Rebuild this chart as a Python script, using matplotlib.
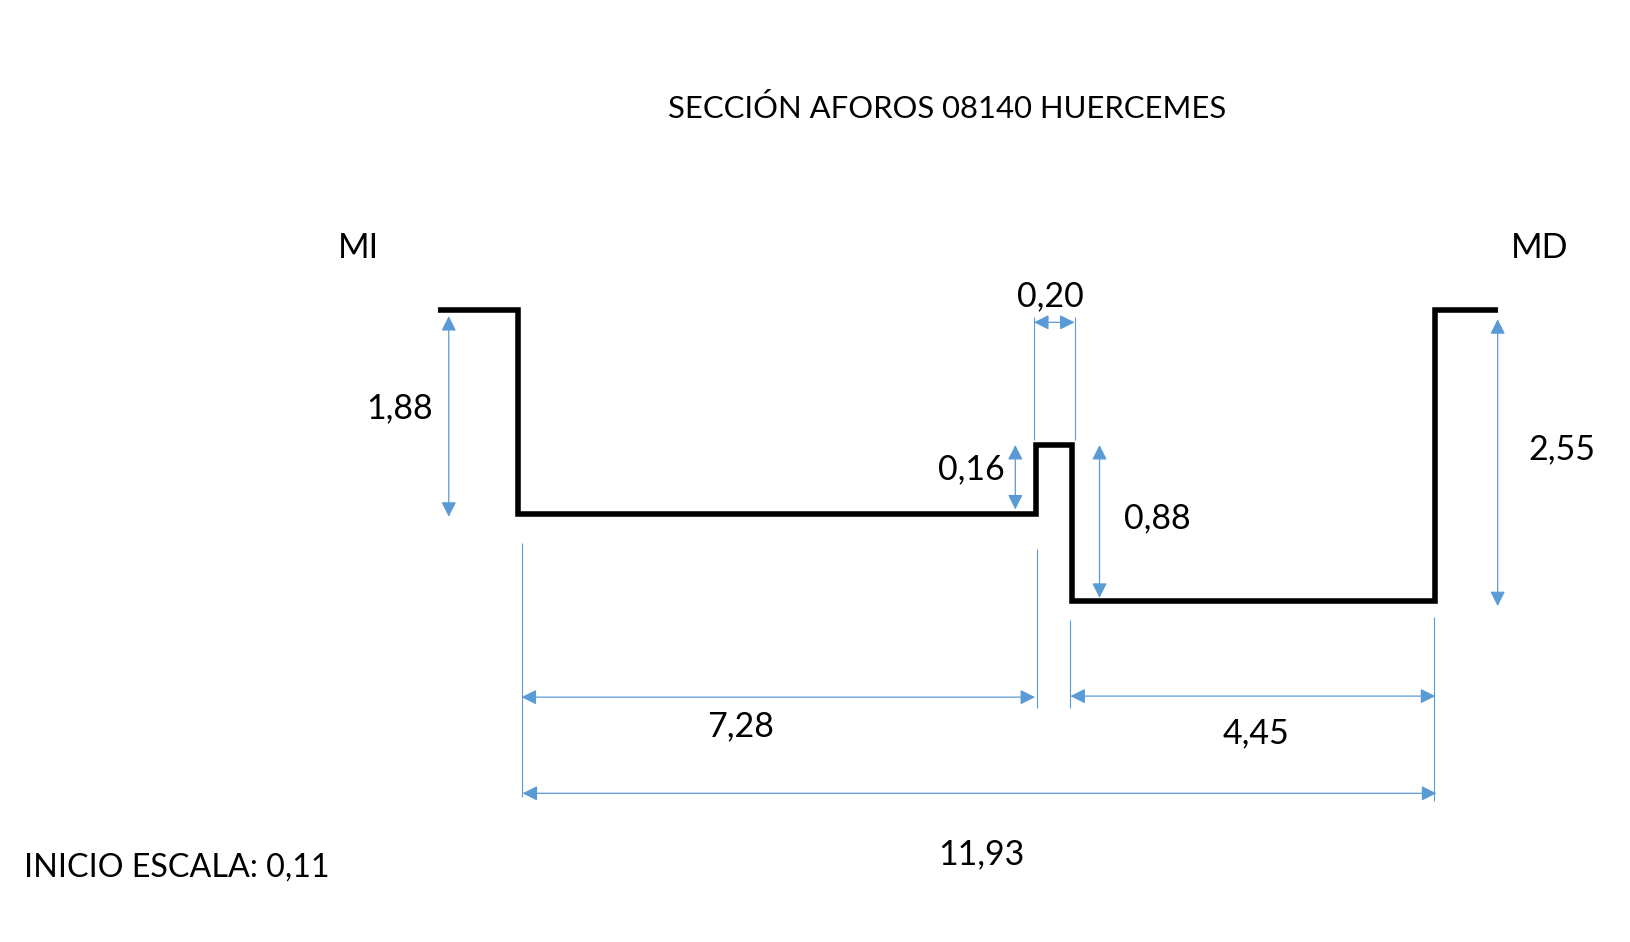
import matplotlib
matplotlib.use('Agg')
import matplotlib.pyplot as plt

# section profile
SECTION_X = [422, 499, 499, 997, 997, 1032, 1032, 1381, 1381, 1441]
SECTION_Y = [298, 298, 494, 494, 428, 428, 578, 578, 298, 298]

# dimension arrows (x0, y0, x1, y1)
ARROWS = [(432, 304, 432, 497), (977, 428, 977, 490), (1058, 428, 1058, 575),
          (1441, 307, 1441, 583), (995, 310, 1034, 310), (502, 670.5, 996, 670.5),
          (1030, 669.5, 1381, 669.5), (503, 763, 1382, 763)]

# extension lines (x, y0, y1)
EXT_LINES = [(502, 522, 767), (998, 528, 681), (1030, 596, 681), (1380, 593, 770),
             (995, 305, 423), (1034, 305, 423)]

LABELS = ['MI', 'MD', '0,20', '1,88', '0,16', '0,88', '2,55', '7,28', '4,45', '11,93']
LABEL_X = [345, 1481, 1011, 385, 935, 1114, 1503, 713, 1209, 944]
LABEL_Y = [239, 239, 284.5, 392.5, 451.5, 498.5, 432.5, 698.5, 705.5, 821.5]

TITLE = 'SECCIÓN AFOROS 08140 HUERCEMES'
NOTE = 'INICIO ESCALA: 0,11'
BLUE = '#5B9BD5'

plt.rcParams['font.family'] = ['Lato', 'DejaVu Sans']

fig = plt.figure(figsize=(16.3, 9.42), dpi=100)
ax = fig.add_axes([0, 0, 1, 1])
ax.set_xlim(0.3, 1568.3)
ax.set_ylim(906, 0)
ax.axis('off')

for x, y0, y1 in EXT_LINES:
    ax.plot([x, x], [y0, y1], color=BLUE, lw=0.8, solid_capstyle='butt')

for x0, y0, x1, y1 in ARROWS:
    ax.annotate('', xy=(x1, y1), xytext=(x0, y0),
                arrowprops=dict(arrowstyle='<|-|>,head_length=0.6,head_width=0.3',
                                mutation_scale=15, color=BLUE, lw=0.9,
                                shrinkA=0, shrinkB=0))

ax.plot(SECTION_X, SECTION_Y, color='black', lw=4.0, solid_joinstyle='miter',
        solid_capstyle='butt')

ax.text(911, 104.5, TITLE, fontsize=22.3, ha='center', va='center')
ax.text(23, 834, NOTE, fontsize=23.2, ha='left', va='center')
for label, x, y in zip(LABELS, LABEL_X, LABEL_Y):
    ax.text(x, y, label, fontsize=24.5, ha='center', va='center')

fig.savefig('out.png', dpi=100)
